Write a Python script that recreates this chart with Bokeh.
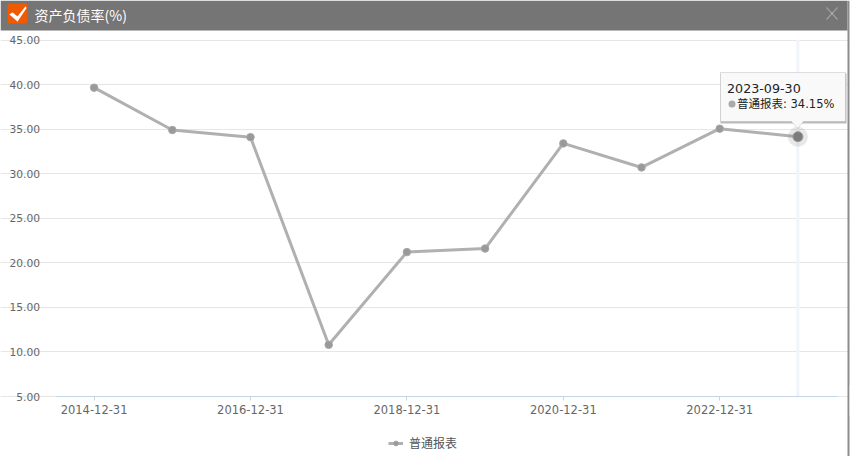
from bokeh.embed import file_html
from bokeh.resources import INLINE
from bokeh.plotting import figure
from bokeh.models import (BoxAnnotation, PolyAnnotation, Label, FixedTicker,
                          Legend, LegendItem, ColumnDataSource, Range1d)

dates = ["2014-12-31", "2015-12-31", "2016-12-31", "2017-12-31", "2018-12-31",
         "2019-12-31", "2020-12-31", "2021-12-31", "2022-12-31", "2023-09-30"]
values = [39.65, 34.9, 34.1, 10.8, 21.2, 21.6, 33.4, 30.7, 35.05, 34.15]
y_ticks = [5, 10, 15, 20, 25, 30, 35, 40, 45]
x_label_every = 2
series_name = "普通报表"
title_text = "资产负债率(%)"

FONT = "DejaVu Sans, Noto Sans CJK SC"
CJK = "Noto Sans CJK SC, sans-serif"

W, H = 850, 456
# The frame fills the page; the axes sit inside it at fixed locations.
PLOT_L, PLOT_R, PLOT_T, PLOT_B = 54.5, 836.5, 39.5, 396
ux = (PLOT_R - PLOT_L) / len(dates)
uy = (PLOT_B - PLOT_T) / (y_ticks[-1] - y_ticks[0])
x0 = -0.5 - PLOT_L / ux
x1 = -0.5 + (W - PLOT_L) / ux
y0 = y_ticks[0] - (H - PLOT_B) / uy
y1 = y_ticks[0] + PLOT_B / uy

p = figure(width=W, height=H, output_backend="svg", toolbar_location=None,
           x_range=Range1d(x0, x1), y_range=Range1d(y0, y1),
           min_border=0, outline_line_color=None, border_fill_color="white", background_fill_color="white")

# axes
x_bounds = (-0.5, len(dates) - 0.5)
p.xgrid.visible = False
p.ygrid.grid_line_color = "#e6e6e6"
p.ygrid.ticker = FixedTicker(ticks=y_ticks)
p.ygrid.bounds = x_bounds
p.yaxis.fixed_location = -0.5
p.yaxis.bounds = (y_ticks[0], y_ticks[-1])
p.yaxis.ticker = FixedTicker(ticks=y_ticks)
p.yaxis.major_label_overrides = {t: f"{t:.2f}" for t in y_ticks}
p.yaxis.axis_line_color = None
p.yaxis.major_tick_line_color = None
p.yaxis.major_tick_in = 0
p.yaxis.major_tick_out = 0
p.yaxis.minor_tick_line_color = None
p.yaxis.major_label_standoff = 15
p.yaxis.major_label_text_font = FONT
p.yaxis.major_label_text_font_size = "10.7px"
p.yaxis.major_label_text_color = "#666666"
xt = list(range(0, len(dates), x_label_every))
p.xaxis.fixed_location = y_ticks[0]
p.xaxis.bounds = x_bounds
p.xaxis.ticker = FixedTicker(ticks=xt)
p.xaxis.major_label_overrides = {i: dates[i] for i in xt}
p.xaxis.axis_line_color = "#c6d4e8"
p.xaxis.axis_line_width = 1
p.xaxis.major_tick_line_color = "#c6d4e8"
p.xaxis.major_tick_in = 0
p.xaxis.major_tick_out = 4
p.xaxis.minor_tick_line_color = None
p.xaxis.major_label_standoff = 4
p.xaxis.major_label_text_font = FONT
p.xaxis.major_label_text_font_size = "11.5px"
p.xaxis.major_label_text_color = "#666666"

last = len(dates) - 1
# crosshair band under the series
p.vbar(x=[last], bottom=[y_ticks[0]], top=[y_ticks[-1]], width=3 / ux, fill_color="#f0f4fb", line_color=None)

src = ColumnDataSource(dict(x=list(range(len(dates))), y=values))
r_line = p.line("x", "y", source=src, line_color="#b0b0b0", line_width=3)
r_pts = p.scatter("x", "y", source=src, size=7.5, fill_color="#999999", line_color="#a8a8a8", line_width=1)

# highlighted point
p.scatter([last], [values[last]], size=20, fill_color="#808080", fill_alpha=0.18, line_color=None)
p.scatter([last], [values[last]], size=10, fill_color="#7c7c7c", line_color="#9a9a9a")

# legend
leg = Legend(items=[LegendItem(label=series_name, renderers=[r_line, r_pts])], orientation="horizontal",
             location=(388, 5), border_line_color=None, background_fill_alpha=0,
             label_text_font=CJK, label_text_font_size="12px", label_text_color="#555555",
             glyph_width=15, glyph_height=12, label_standoff=6, margin=0, padding=4)
p.add_layout(leg, "center")

def box(l, r, t, b, **kw):
    a = BoxAnnotation(left=l, right=r, top=t, bottom=b, left_units="canvas", right_units="canvas",
                      top_units="canvas", bottom_units="canvas", line_color=None, **kw)
    p.add_layout(a)
    return a

def poly(xs, ys, **kw):
    a = PolyAnnotation(xs=xs, ys=ys, xs_units="canvas", ys_units="canvas", **kw)
    p.add_layout(a)
    return a

def label(x, y, text, **kw):
    a = Label(x=x, y=y, x_units="canvas", y_units="canvas", text=text, **kw)
    p.add_layout(a)
    return a

# window chrome
box(0, 847, 0, 30, fill_color="#757575", fill_alpha=1)
box(847, 849, 0, H, fill_color="#8c8c8c", fill_alpha=1)
box(849, 850, 385, 415, fill_color="#fde6d8", fill_alpha=1)
box(7, 27, 3, 23, fill_color="#f05a00", fill_alpha=1, border_radius=3)
poly([9, 12, 17, 25, 26, 17], [14, 12, 16, 6, 7.5, 21], fill_color="white", fill_alpha=1, line_color="white", line_width=0.5)
label(34, 14, title_text, text_font=CJK, text_font_size="14px", text_color="white", text_baseline="middle")
poly([826, 837], [7, 19], fill_alpha=0, line_color="white", line_width=1.2)
poly([837, 826], [7, 19], fill_alpha=0, line_color="white", line_width=1.2)

# tooltip
box(720, 846, 73, 123, fill_color="#bbbbbb", fill_alpha=1)
poly([720, 845, 845, 803, 797, 791, 720], [72, 72, 121, 121, 128, 121, 121],
     fill_color="#f9f9f9", fill_alpha=1, line_color="#999999", line_width=1)
label(726.5, 88, dates[last], text_font=FONT, text_font_size="12.7px", text_color="#222222", text_baseline="middle")
box(728, 735, 100, 107, fill_color="#aaaaaa", fill_alpha=1, border_radius=4)
label(736.5, 103, f"{series_name}: {values[last]:.2f}%", text_font=FONT, text_font_size="11.5px",
      text_color="#222222", text_baseline="middle")

open("out.html", "w").write(file_html(p, INLINE))
